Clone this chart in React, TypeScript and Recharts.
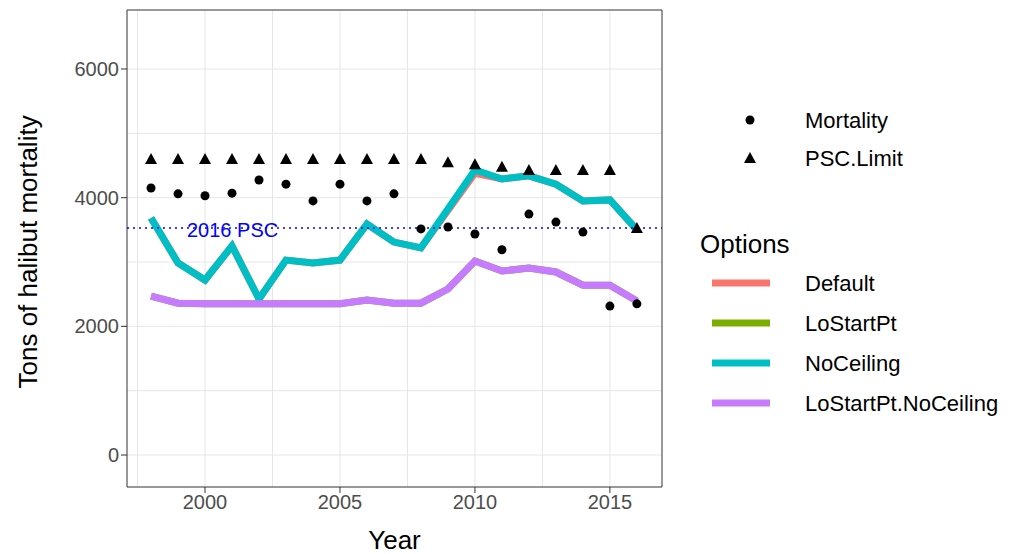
import { ComposedChart, Line, Scatter, XAxis, YAxis, CartesianGrid, ReferenceLine, ReferenceArea } from "recharts";

const years = [1998, 1999, 2000, 2001, 2002, 2003, 2004, 2005, 2006, 2007, 2008, 2009, 2010, 2011, 2012, 2013, 2014, 2015, 2016];
const mortality = [4150, 4060, 4030, 4070, 4275, 4210, 3950, 4210, 3950, 4060, 3515, 3545, 3435, 3190, 3745, 3620, 3465, 2315, 2350];
const pscLimit = [4600, 4600, 4600, 4600, 4600, 4600, 4600, 4600, 4600, 4600, 4600, 4550, 4520, 4480, 4430, 4430, 4430, 4430, 3530];
const defaultOpt = [3685, 2985, 2720, 3250, 2425, 3030, 2985, 3030, 3590, 3310, 3220, 3800, 4380, 4290, 4340, 4210, 3950, 3965, 3500];
const noCeiling = [3685, 2985, 2720, 3250, 2425, 3030, 2985, 3030, 3590, 3310, 3220, 3825, 4430, 4290, 4340, 4210, 3950, 3965, 3500];
const loStartPt = [2470, 2360, 2350, 2350, 2350, 2350, 2350, 2350, 2410, 2360, 2360, 2580, 3015, 2860, 2905, 2845, 2640, 2640, 2395];
const loStartPtNoCeiling = [2470, 2360, 2350, 2350, 2350, 2350, 2350, 2350, 2410, 2360, 2360, 2580, 3015, 2860, 2905, 2845, 2640, 2640, 2395];
const psc2016 = 3530;

const lineData = years.map((year, i) => ({
  year,
  Default: defaultOpt[i],
  LoStartPt: loStartPt[i],
  NoCeiling: noCeiling[i],
  "LoStartPt.NoCeiling": loStartPtNoCeiling[i],
}));
const mortData = years.map((year, i) => ({ year, value: mortality[i] }));
const pscData = years.map((year, i) => ({ year, value: pscLimit[i] }));

const series = [
  { key: "Default", color: "#F8766D" },
  { key: "LoStartPt", color: "#7CAE00" },
  { key: "NoCeiling", color: "#00BFC4" },
  { key: "LoStartPt.NoCeiling", color: "#C77CFF" },
];

const FONT = "'Liberation Sans', Arial, sans-serif";
const tick = { fill: "#4d4d4d", fontSize: 20, fontFamily: FONT };

const Triangle = (props: any) => {
  const { cx, cy } = props;
  return <path d={`M${cx},${cy - 6} L${cx + 6},${cy + 5} L${cx - 6},${cy + 5} Z`} fill="#000" />;
};
const Dot = (props: any) => <circle cx={props.cx} cy={props.cy} r={4.5} fill="#000" />;

export default function App() {
  return (
    <div style={{ position: "absolute", left: 0, top: 0, width: 1032, height: 554, background: "#fff", fontFamily: FONT }}>
      <ComposedChart width={680} height={554} data={lineData} margin={{ top: 10, right: 18, bottom: 7, left: 0 }}>
        <CartesianGrid
          stroke="#e6e6e6"
          horizontalValues={[0, 1000, 2000, 3000, 4000, 5000, 6000]}
          verticalValues={[1997.5, 2000, 2002.5, 2005, 2007.5, 2010, 2012.5, 2015]}
        />
        <XAxis
          type="number"
          dataKey="year"
          domain={[1997.11, 2016.93]}
          ticks={[2000, 2005, 2010, 2015]}
          tick={tick}
          tickLine={{ stroke: "#333" }}
          axisLine={false}
          height={60}
          label={{ value: "Year", position: "insideBottom", offset: -2, fill: "#000", fontSize: 26, fontFamily: FONT }}
        />
        <YAxis
          type="number"
          domain={[-497, 6917]}
          ticks={[0, 2000, 4000, 6000]}
          tick={tick}
          tickLine={{ stroke: "#333" }}
          axisLine={false}
          width={127}
          label={{ value: "Tons of halibut mortality", angle: -90, position: "insideLeft", offset: 28, dy: 140, fill: "#000", fontSize: 26, fontFamily: FONT }}
        />
        <ReferenceArea x1={1997.11} x2={2016.93} y1={-497} y2={6917} fill="none" stroke="#333" strokeWidth={1} />
        {series.map((s) => (
          <Line key={s.key} dataKey={s.key} stroke={s.color} strokeWidth={7} dot={false} isAnimationActive={false} />
        ))}
        <ReferenceLine
          y={psc2016}
          stroke="#0000ff"
          strokeDasharray="2 4"
          strokeWidth={1.5}
          label={{ value: "2016 PSC", position: "insideTopLeft", dx: 55, dy: -10, fill: "#0000ff", fontSize: 20, fontFamily: FONT }}
        />
        <Scatter data={mortData} dataKey="value" shape={Dot} isAnimationActive={false} />
        <Scatter data={pscData} dataKey="value" shape={Triangle} isAnimationActive={false} />
      </ComposedChart>
      <svg width={1032} height={554} style={{ position: "absolute", left: 0, top: 0 }}>
        <circle cx={750} cy={120} r={4.5} fill="#000" />
        <text x={805} y={128} fontSize={22} fontFamily={FONT}>Mortality</text>
        <path d="M750,152 L756,163 L744,163 Z" fill="#000" />
        <text x={805} y={166} fontSize={22} fontFamily={FONT}>PSC.Limit</text>
        <text x={700} y={253} fontSize={26} fontFamily={FONT}>Options</text>
        {series.map((s, i) => (
          <g key={s.key}>
            <line x1={712} x2={770} y1={283 + i * 40} y2={283 + i * 40} stroke={s.color} strokeWidth={7} />
            <text x={805} y={291 + i * 40} fontSize={22} fontFamily={FONT}>{s.key}</text>
          </g>
        ))}
      </svg>
    </div>
  );
}
